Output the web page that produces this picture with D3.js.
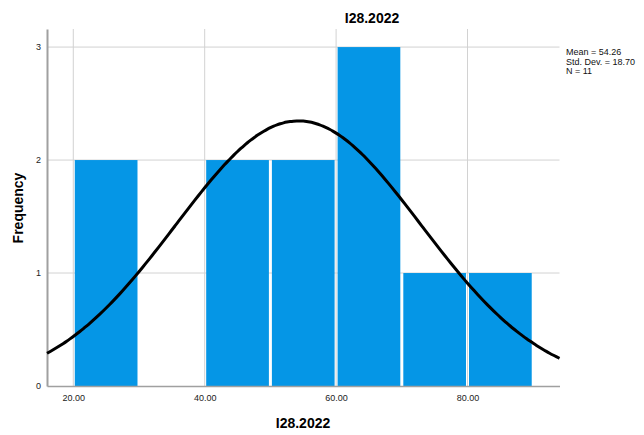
<!DOCTYPE html>
<html>
<head>
<meta charset="utf-8">
<script src="https://cdn.jsdelivr.net/npm/d3@7"></script>
<style>
  body { margin: 0; background: #fff; }
  svg { display: block; }
</style>
</head>
<body>
<div id="chart"></div>
<script>
// histogram bins (lower edge, upper edge) and their frequency
var binStart = [20, 30, 40, 50, 60, 70, 80];
var binEnd   = [30, 40, 50, 60, 70, 80, 90];
var counts   = [2, 0, 2, 2, 3, 1, 1];

var xTicks = [20, 40, 60, 80];
var yTicks = [0, 1, 2, 3];

// summary statistics printed on the chart
var statLabels = ["Mean = 54.26", "Std. Dev. = 18.70", "N = 11"];
var mean = 54.26, sd = 18.70, n = 11, binWidth = 10;

var W = 644, H = 435;
var margin = {left: 47, top: 29, right: 84.5, bottom: 49};

var svg = d3.select("#chart").append("svg")
    .attr("width", W).attr("height", H);

var x = d3.scaleLinear().domain([16, 94]).range([margin.left, W - margin.right]);
var y = d3.scaleLinear().domain([0, 3.16]).range([H - margin.bottom, margin.top]);

// grid
svg.append("g").selectAll("line").data(xTicks).enter().append("line")
    .attr("x1", d => x(d)).attr("x2", d => x(d))
    .attr("y1", y.range()[1]).attr("y2", y.range()[0])
    .attr("stroke", "#d2d2d2").attr("stroke-width", 1);
svg.append("g").selectAll("line").data(yTicks.slice(1)).enter().append("line")
    .attr("x1", x.range()[0]).attr("x2", x.range()[1])
    .attr("y1", d => y(d)).attr("y2", d => y(d))
    .attr("stroke", "#d2d2d2").attr("stroke-width", 1);

// bars
var bins = binStart.map(function(s, i){ return {x0: s, x1: binEnd[i], c: counts[i]}; });
svg.append("g").selectAll("rect").data(bins.filter(b => b.c > 0)).enter().append("rect")
    .attr("x", d => x(d.x0) + 1.5)
    .attr("width", d => x(d.x1) - x(d.x0) - 3)
    .attr("y", d => y(d.c))
    .attr("height", d => y(0) - y(d.c))
    .attr("fill", "#0596e6");

// axes
var xAxis = svg.append("g").attr("transform", "translate(0," + y(0) + ")")
    .call(d3.axisBottom(x).tickValues(xTicks).tickSize(0).tickPadding(9).tickFormat(d3.format(".2f")));
xAxis.select(".domain").attr("stroke", "#a0a0a0").attr("stroke-width", 1.5);
xAxis.selectAll("text").attr("font-family", "Liberation Sans, Arial, sans-serif").attr("font-size", 9).attr("fill", "#222");

var yAxis = svg.append("g").attr("transform", "translate(" + x.range()[0] + ",0)")
    .call(d3.axisLeft(y).tickValues(yTicks).tickSize(0).tickPadding(6).tickFormat(d3.format("d")));
yAxis.select(".domain").attr("stroke", "#a0a0a0").attr("stroke-width", 2);
yAxis.selectAll("text").attr("font-family", "Liberation Sans, Arial, sans-serif").attr("font-size", 9).attr("fill", "#222");

// normal curve from the printed mean / sd
var curve = d3.range(x.domain()[0], x.domain()[1] + 0.01, 0.5).map(function(v){
  var z = (v - mean) / sd;
  return [v, n * binWidth * Math.exp(-0.5 * z * z) / (sd * Math.sqrt(2 * Math.PI))];
});
svg.append("path").datum(curve)
    .attr("d", d3.line().x(d => x(d[0])).y(d => y(d[1])).curve(d3.curveBasis))
    .attr("fill", "none").attr("stroke", "#000").attr("stroke-width", 3);

// titles
svg.append("text").attr("x", 372).attr("y", 22.5).attr("text-anchor", "middle")
    .attr("font-family", "Liberation Sans, Arial, sans-serif").attr("font-weight", "bold").attr("font-size", 14)
    .text("I28.2022");
svg.append("text").attr("x", 303).attr("y", 428).attr("text-anchor", "middle")
    .attr("font-family", "Liberation Sans, Arial, sans-serif").attr("font-weight", "bold").attr("font-size", 14)
    .text("I28.2022");
svg.append("text").attr("transform", "translate(23,208) rotate(-90)").attr("text-anchor", "middle")
    .attr("font-family", "Liberation Sans, Arial, sans-serif").attr("font-weight", "bold").attr("font-size", 14)
    .text("Frequency");

// stats box
svg.append("g").selectAll("text").data(statLabels).enter().append("text")
    .attr("x", 566).attr("y", (d, i) => 55 + i * 9.5)
    .attr("font-family", "Liberation Sans Narrow, Arial Narrow, sans-serif").attr("font-size", 9)
    .attr("fill", "#111")
    .text(d => d);
</script>
</body>
</html>
